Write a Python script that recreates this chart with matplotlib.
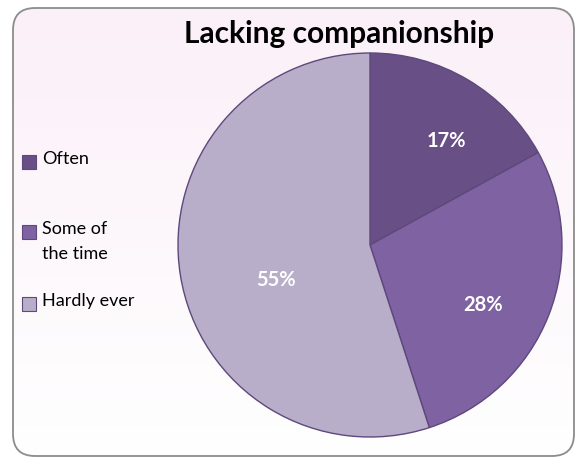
import numpy as np
import matplotlib
matplotlib.use("Agg")
import matplotlib.pyplot as plt
from matplotlib.patches import FancyBboxPatch, Rectangle

plt.rcParams['font.family'] = ['Lato', 'DejaVu Sans']

categories = ["Often", "Some of\nthe time", "Hardly ever"]
shares = [17, 28, 55]
colors = ["#684F86", "#7F62A1", "#B9AECA"]
title = "Lacking companionship"

fig = plt.figure(figsize=(5.76, 4.58), dpi=100)

# background panel: rounded frame with a soft vertical gradient
bg = fig.add_axes([0, 0, 1, 1])
bg.set_xlim(0, 576)
bg.set_ylim(458, 0)
bg.axis("off")
frame = FancyBboxPatch((13, 8), 561, 448, boxstyle="round,pad=0,rounding_size=22",
                       facecolor="none", edgecolor="#8C8C8C", linewidth=1.3, zorder=3)
bg.add_patch(frame)
grad = np.linspace(0, 1, 256).reshape(-1, 1)
top = np.array([0.984, 0.941, 0.973])
img = top * (1 - grad[..., None]) + np.ones(3) * grad[..., None]
im = bg.imshow(img, extent=(13, 574, 456, 8), origin="upper", aspect="auto", zorder=1)
im.set_clip_path(frame)

bg.text(339, 34, title, ha="center", va="center", fontsize=21.5, fontweight="bold", zorder=4)

# legend entries drawn by hand so the wrapped label keeps its spacing
legend_y = [162, 232, 304]
for lab, c, y in zip(categories, colors, legend_y):
    bg.add_patch(Rectangle((22, y - 7), 14, 14, facecolor=c, edgecolor="#5E487C",
                           linewidth=0.8, zorder=4))
    bg.text(42, y - 11, lab, ha="left", va="top", fontsize=13, linespacing=1.7, zorder=4)

ax = fig.add_axes([(370 - 192) / 576, (458 - 245 - 192) / 458, 384 / 576, 384 / 458])
wedges, texts, autotexts = ax.pie(
    shares, colors=colors, startangle=90, counterclock=False,
    autopct="%d%%", pctdistance=0.68, radius=1.0,
    wedgeprops=dict(edgecolor="#5E487C", linewidth=1.0),
    textprops=dict(color="white", fontsize=14.5, fontweight="bold"))
ax.set_aspect("auto")
ax.set_xlim(-1, 1)
ax.set_ylim(-1, 1)
for t, pos in zip(autotexts, [(0.40, 0.54), (0.59, -0.31), (-0.49, -0.18)]):
    t.set_position(pos)

fig.savefig("out.png", dpi=100)
